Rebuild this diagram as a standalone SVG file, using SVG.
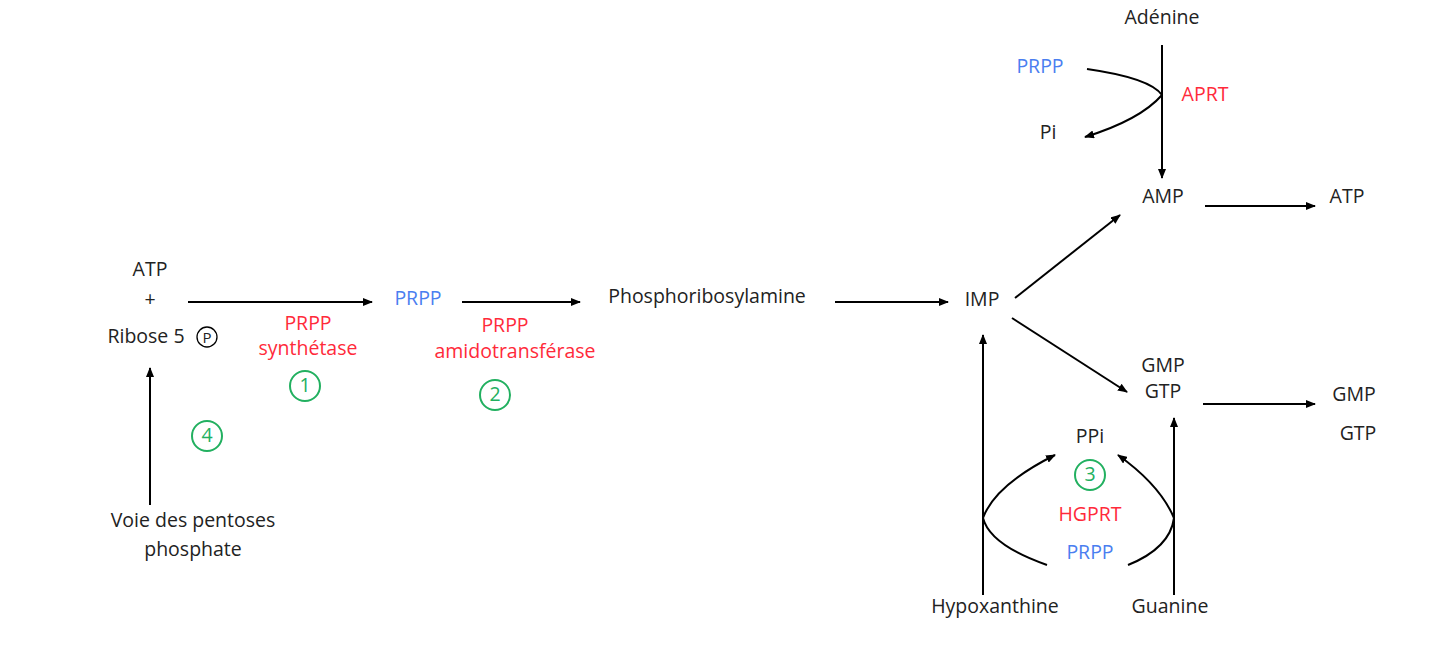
<svg xmlns="http://www.w3.org/2000/svg" width="1440" height="645" viewBox="0 0 1440 645">
<defs>
<marker id="ah" markerWidth="10" markerHeight="8" refX="9" refY="4" orient="auto" markerUnits="userSpaceOnUse"><path d="M0,0 L10,4 L0,8 z" fill="#000"/></marker>
<style>
text{font-family:"Open Sans","Liberation Sans",sans-serif;font-size:19.5px;text-anchor:middle;fill:#222}
.r{fill:#ff2a3a}.b{fill:#4a7ef0}.g{fill:#22b060}
.c{stroke:#000;stroke-width:2;fill:none;marker-end:url(#ah)}
.n{stroke:#22b060;stroke-width:2;fill:none}
</style>
</defs>
<rect width="1440" height="645" fill="#fff"/>
<g id="connectors">
<path class="c" d="M188,302 H372"/>
<path class="c" d="M462,302 H580"/>
<path class="c" d="M835,302 H948"/>
<path class="c" d="M1015,298 L1120,215"/>
<path class="c" d="M1012,318 L1127,392"/>
<path class="c" d="M1205,206 H1315"/>
<path class="c" d="M1203,404 H1315"/>
<path class="c" d="M1162,45 V178"/>
<path d="M1087,69 Q1150,78 1162,95" stroke="#000" stroke-width="2" fill="none"/>
<path class="c" d="M1162,95 Q1140,120 1085,137"/>
<path class="c" d="M983,595 V335"/>
<path class="c" d="M1174,595 V418"/>
<path class="c" d="M150,505 V368"/>
<path d="M1047,565 Q990,545 983,518" stroke="#000" stroke-width="2" fill="none"/>
<path class="c" d="M983,518 Q995,485 1055,455"/>
<path d="M1128,565 Q1170,548 1174,518" stroke="#000" stroke-width="2" fill="none"/>
<path class="c" d="M1174,518 Q1160,485 1118,455"/>
</g>
<g id="atp-ribose"><text x="150" y="276">ATP</text><text x="150" y="306">+</text><text x="146" y="343">Ribose 5</text><circle cx="207" cy="337" r="10" fill="none" stroke="#000" stroke-width="1.3"/><text x="207" y="343" style="font-size:15px">P</text></g>
<g id="enz1"><text class="r" x="308" y="330">PRPP</text><text class="r" x="308" y="355">synthétase</text><circle class="n" cx="305" cy="386" r="15"/><text class="g" x="305" y="392">1</text></g>
<g id="prpp"><text class="b" x="418" y="305">PRPP</text></g>
<g id="enz2"><text class="r" x="505" y="332">PRPP</text><text class="r" x="515" y="358">amidotransférase</text><circle class="n" cx="495" cy="395" r="15"/><text class="g" x="495" y="401">2</text></g>
<g id="pra"><text x="707" y="303">Phosphoribosylamine</text></g>
<g id="imp"><text x="982" y="306">IMP</text></g>
<g id="amp"><text x="1163" y="203">AMP</text></g>
<g id="atp2"><text x="1347" y="203">ATP</text></g>
<g id="gmpgtp"><text x="1163" y="372">GMP</text><text x="1163" y="398">GTP</text></g>
<g id="gmpgtp2"><text x="1354" y="401">GMP</text><text x="1358" y="440">GTP</text></g>
<g id="adenine"><text x="1162" y="24">Adénine</text></g>
<g id="aprt"><text class="b" x="1040" y="73">PRPP</text><text class="r" x="1205" y="101">APRT</text><text x="1048" y="139">Pi</text></g>
<g id="hgprt"><text x="1090" y="443">PPi</text><circle class="n" cx="1090" cy="475" r="15"/><text class="g" x="1090" y="481">3</text><text class="r" x="1090" y="521">HGPRT</text><text class="b" x="1090" y="559">PRPP</text></g>
<g id="hypo"><text x="995" y="613">Hypoxanthine</text></g>
<g id="guanine"><text x="1170" y="613">Guanine</text></g>
<g id="enz4"><circle class="n" cx="207" cy="436" r="15"/><text class="g" x="207" y="442">4</text></g>
<g id="pentoses"><text x="193" y="527">Voie des pentoses</text><text x="193" y="556">phosphate</text></g>
</svg>
